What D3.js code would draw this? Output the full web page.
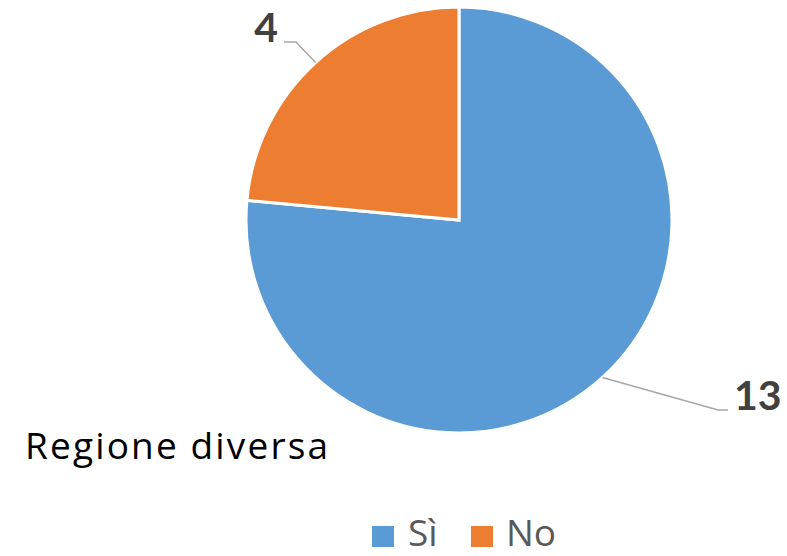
<!DOCTYPE html>
<html>
<head>
<meta charset="utf-8">
<script src="https://cdn.jsdelivr.net/npm/d3@7/dist/d3.min.js"></script>
<style>
  html, body { margin: 0; padding: 0; background: #fff; }
  svg { display: block; }
</style>
</head>
<body>
<svg id="chart" width="787" height="556"></svg>
<script>
// Responses to "Regione diversa"
const categories = ["Sì", "No"];
const values = [13, 4];
const colors = ["#5B9BD5", "#ED7D31"];
const title = "Regione diversa";

const svg = d3.select("#chart");
const cx = 459, cy = 220, r = 213;
const labelFont = "Lato, 'Open Sans', sans-serif";
const textFont = "'Open Sans', sans-serif";

const data = categories.map((c, i) => ({ cat: c, value: values[i], color: colors[i] }));

const pie = d3.pie().value(d => d.value).sort(null);
const arcs = pie(data);
const arc = d3.arc().innerRadius(0).outerRadius(r);

const g = svg.append("g").attr("transform", `translate(${cx},${cy})`);

g.selectAll("path.slice")
  .data(arcs)
  .join("path")
  .attr("class", "slice")
  .attr("d", arc)
  .attr("fill", d => d.data.color)
  .attr("stroke", "#fff")
  .attr("stroke-width", 3)
  .attr("stroke-linejoin", "miter");

// Data labels: leader line from the slice's mid-angle on the rim, with an elbow
const labelPos = {
  "Sì": { elbow: [259, 190], end: [269, 190], text: [275, 190], anchor: "start" },
  "No": { elbow: [-163, -178], end: [-175, -178], text: [-181, -178], anchor: "end" }
};

arcs.forEach(a => {
  const p = labelPos[a.data.cat];
  const ang = (a.startAngle + a.endAngle) / 2;
  const rim = [Math.sin(ang) * r, -Math.cos(ang) * r];
  g.append("polyline")
    .attr("points", [rim, p.elbow, p.end].map(q => q.join(",")).join(" "))
    .attr("fill", "none")
    .attr("stroke", "#A6A6A6")
    .attr("stroke-width", 1.5);
  g.append("text")
    .attr("x", p.text[0])
    .attr("y", p.text[1])
    .attr("text-anchor", p.anchor)
    .attr("font-family", labelFont)
    .attr("font-weight", 700)
    .attr("font-size", 41)
    .attr("fill", "#404040")
    .text(a.data.value);
});

// Title
svg.append("text")
  .attr("x", 25)
  .attr("y", 459)
  .attr("font-family", textFont)
  .attr("font-size", 37)
  .attr("textLength", 303)
  .attr("lengthAdjust", "spacing")
  .attr("fill", "#000")
  .text(title);

// Legend
const legendItems = [
  { x: 372, textX: 408 },
  { x: 471, textX: 506 }
];
const legend = svg.append("g");
data.forEach((d, i) => {
  legend.append("rect")
    .attr("x", legendItems[i].x)
    .attr("y", 526)
    .attr("width", 22)
    .attr("height", 21)
    .attr("fill", d.color);
  legend.append("text")
    .attr("x", legendItems[i].textX)
    .attr("y", 546)
    .attr("font-family", textFont)
    .attr("font-size", 37)
    .attr("fill", "#595959")
    .text(d.cat);
});
</script>
</body>
</html>
